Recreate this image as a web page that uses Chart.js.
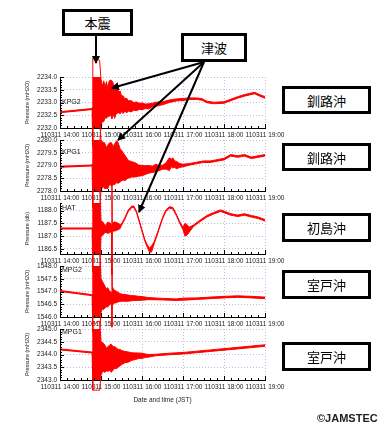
<!DOCTYPE html>
<html>
<head>
<meta charset="utf-8">
<script src="https://cdn.jsdelivr.net/npm/chart.js@4"></script>
<style>
body { margin: 0; background: #fff; width: 380px; height: 430px; position: relative; overflow: hidden; font-family: "Noto Sans CJK JP", sans-serif; }
canvas { position: absolute; left: 0; }
.stn { position: absolute; left: 62px; font: 7px "Liberation Sans", Arial, sans-serif; color: #111; line-height: 8px; }
.box { position: absolute; box-sizing: border-box; border: 3px solid #000; background: #fff; display: flex; align-items: center; justify-content: center; font-size: 13px; color: #000; }
#credit { position: absolute; left: 317px; top: 412px; font: bold 11px "Liberation Sans", Arial, sans-serif; color: #222; }
svg { position: absolute; left: 0; top: 0; }
</style>
</head>
<body>
<canvas id="p1" width="300" height="93" style="top:57px"></canvas>
<canvas id="p2" width="300" height="93" style="top:120px"></canvas>
<canvas id="p3" width="300" height="93" style="top:183px"></canvas>
<canvas id="p4" width="300" height="93" style="top:246px"></canvas>
<canvas id="p5" width="300" height="95" style="top:309px"></canvas>

<div class="stn" style="top:98px">KPG2</div>
<div class="stn" style="top:148px">KPG1</div>
<div class="stn" style="top:204px">HAT</div>
<div class="stn" style="top:266px">MPG2</div>
<div class="stn" style="top:328px">MPG1</div>

<svg width="380" height="430">
  <defs>
    <marker id="ah" markerWidth="8" markerHeight="8" refX="7" refY="4" orient="auto" markerUnits="userSpaceOnUse">
      <path d="M0,0 L8,4 L0,8 z" fill="#000"/>
    </marker>
  </defs>
  <g stroke="#000" stroke-width="2" fill="none" marker-end="url(#ah)">
    <line x1="96" y1="35" x2="96" y2="63"/>
    <line x1="204" y1="62" x2="112" y2="88"/>
    <line x1="204" y1="62" x2="118" y2="140"/>
    <line x1="204" y1="62" x2="139" y2="212"/>
  </g>
</svg>

<div class="box" style="left:62px;top:9px;width:71px;height:27px">本震</div>
<div class="box" style="left:181px;top:33px;width:66px;height:29px">津波</div>
<div class="box" style="left:282px;top:86px;width:89px;height:28px">釧路沖</div>
<div class="box" style="left:282px;top:143px;width:89px;height:28px">釧路沖</div>
<div class="box" style="left:282px;top:213px;width:89px;height:29px">初島沖</div>
<div class="box" style="left:282px;top:270px;width:89px;height:29px">室戸沖</div>
<div class="box" style="left:282px;top:342px;width:89px;height:29px">室戸沖</div>
<div id="credit">©JAMSTEC</div>

<script>
// minutes after 2011-03-11 14:00 JST, trace centre and half spread of the noisy record
const kpg2Time = [0, 46, 47, 48, 52, 55, 58, 60, 62, 64, 66, 68, 70, 72, 74, 76, 78, 80, 82, 84, 86, 88, 90, 92, 95, 98, 100, 104, 108, 112, 116, 120, 125, 130, 135, 140, 150, 160, 170, 180, 190, 200, 208, 215, 225, 240, 250, 260, 270, 278, 285, 292, 300];
const kpg2Mid  = [2232.62, 2232.74, 2232.75, 2233.0, 2233.1, 2233.0, 2233.0, 2233.0, 2232.95, 2233.05, 2233.0, 2233.1, 2233.0, 2233.15, 2233.2, 2233.1, 2233.15, 2233.0, 2233.05, 2233.1, 2233.0, 2233.0, 2232.95, 2232.92, 2232.9, 2232.88, 2232.87, 2232.85, 2232.85, 2232.85, 2232.85, 2232.85, 2232.85, 2232.85, 2232.9, 2232.93, 2232.97, 2233.05, 2233.1, 2233.12, 2233.15, 2233.15, 2233.12, 2233.02, 2232.98, 2233.0, 2233.1, 2233.2, 2233.28, 2233.33, 2233.37, 2233.28, 2233.2];
const kpg2Half = [0.02, 0.02, 0.05, 1.75, 1.6, 1.7, 1.65, 0.9, 0.7, 0.8, 0.6, 0.72, 0.55, 0.7, 0.68, 0.75, 0.6, 0.62, 0.5, 0.52, 0.4, 0.45, 0.3, 0.35, 0.25, 0.28, 0.2, 0.22, 0.15, 0.17, 0.12, 0.13, 0.09, 0.1, 0.07, 0.08, 0.06, 0.05, 0.04, 0.04, 0.03, 0.03, 0.03, 0.03, 0.03, 0.03, 0.03, 0.03, 0.03, 0.03, 0.03, 0.03, 0.03];

const kpg1Time = [0, 46, 47, 48, 52, 55, 58, 60, 63, 65, 68, 70, 73, 75, 78, 80, 83, 85, 88, 90, 93, 95, 98, 100, 105, 110, 115, 120, 125, 130, 135, 140, 145, 150, 155, 160, 163, 165, 168, 170, 175, 180, 190, 200, 210, 220, 230, 240, 250, 260, 270, 280, 290, 300];
const kpg1Mid  = [2278.95, 2279.0, 2279.0, 2279.1, 2279.2, 2279.1, 2279.1, 2279.0, 2279.05, 2279.0, 2278.9, 2278.95, 2279.1, 2279.05, 2279.0, 2279.05, 2279.15, 2279.1, 2279.0, 2279.0, 2278.95, 2278.9, 2278.88, 2278.85, 2278.85, 2278.83, 2278.8, 2278.8, 2278.82, 2278.85, 2278.85, 2278.9, 2278.9, 2278.93, 2278.98, 2279.05, 2279.1, 2279.1, 2279.05, 2279.02, 2279.0, 2279.0, 2279.05, 2279.1, 2279.15, 2279.15, 2279.2, 2279.25, 2279.4, 2279.35, 2279.4, 2279.3, 2279.35, 2279.4];
const kpg1Half = [0.02, 0.02, 0.05, 1.75, 1.7, 1.75, 1.75, 1.0, 0.85, 0.9, 0.8, 0.85, 0.8, 0.85, 0.75, 0.8, 0.82, 0.8, 0.65, 0.6, 0.52, 0.5, 0.4, 0.35, 0.3, 0.28, 0.22, 0.2, 0.17, 0.15, 0.12, 0.15, 0.1, 0.08, 0.12, 0.25, 0.15, 0.2, 0.12, 0.15, 0.08, 0.05, 0.03, 0.03, 0.03, 0.03, 0.03, 0.03, 0.03, 0.03, 0.03, 0.03, 0.03, 0.03];

const hatTime = [0, 46, 47, 48, 52, 55, 58, 60, 63, 66, 70, 74, 75.5, 76, 76.5, 80, 85, 88, 90, 95, 100, 105, 108, 112, 118, 124, 128, 131, 134, 138, 145, 150, 155, 160, 165, 170, 175, 180, 183, 186, 189, 195, 205, 215, 225, 235, 240, 250, 260, 270, 280, 290, 300];
const hatMid   = [1187.3, 1187.3, 1187.3, 1187.3, 1187.35, 1187.3, 1187.3, 1187.3, 1187.3, 1187.28, 1187.33, 1187.33, 1187.33, 1187.35, 1187.35, 1187.38, 1187.38, 1187.38, 1187.45, 1187.7, 1188.0, 1188.15, 1188.15, 1187.95, 1187.4, 1186.85, 1186.6, 1186.45, 1186.5, 1186.75, 1187.3, 1187.7, 1188.0, 1188.12, 1188.1, 1187.85, 1187.55, 1187.3, 1187.25, 1187.25, 1187.25, 1187.4, 1187.6, 1187.78, 1187.9, 1188.0, 1187.95, 1187.85, 1187.8, 1187.85, 1187.78, 1187.72, 1187.62];
const hatHalf  = [0.02, 0.02, 0.03, 1.7, 1.65, 1.7, 1.7, 0.3, 0.25, 0.13, 0.22, 0.18, 0.13, 1.85, 0.15, 0.18, 0.13, 0.08, 0.03, 0.03, 0.03, 0.03, 0.03, 0.03, 0.03, 0.03, 0.05, 0.08, 0.12, 0.04, 0.03, 0.03, 0.03, 0.03, 0.03, 0.03, 0.03, 0.05, 0.25, 0.2, 0.1, 0.03, 0.03, 0.03, 0.03, 0.03, 0.03, 0.03, 0.03, 0.03, 0.03, 0.03, 0.03];

const mpg2Time = [0, 46, 47, 48, 52, 55, 58, 60, 62, 64, 66, 68, 70, 72, 74, 75.5, 76, 76.5, 78, 80, 83, 85, 88, 90, 95, 100, 105, 110, 115, 120, 130, 150, 170, 180, 200, 220, 240, 260, 280, 300];
const mpg2Mid  = [1547.02, 1546.86, 1546.86, 1547.1, 1547.0, 1547.1, 1547.1, 1546.85, 1546.85, 1546.8, 1546.78, 1546.75, 1546.77, 1546.75, 1546.75, 1546.75, 1547.05, 1546.85, 1546.8, 1546.8, 1546.78, 1546.78, 1546.76, 1546.76, 1546.75, 1546.74, 1546.74, 1546.74, 1546.73, 1546.73, 1546.72, 1546.7, 1546.68, 1546.7, 1546.72, 1546.75, 1546.78, 1546.8, 1546.78, 1546.75];
const mpg2Half = [0.02, 0.02, 0.03, 1.7, 1.65, 1.7, 1.7, 0.65, 0.55, 0.5, 0.42, 0.35, 0.38, 0.28, 0.25, 0.2, 1.45, 0.35, 0.3, 0.25, 0.22, 0.18, 0.16, 0.14, 0.13, 0.12, 0.1, 0.09, 0.08, 0.07, 0.04, 0.03, 0.03, 0.04, 0.03, 0.03, 0.03, 0.03, 0.03, 0.03];

const mpg1Time = [0, 46, 47, 48, 52, 55, 58, 60, 63, 65, 68, 70, 73, 75, 78, 80, 83, 85, 88, 90, 95, 100, 105, 110, 115, 120, 125, 130, 140, 160, 180, 200, 220, 240, 260, 280, 300];
const mpg1Mid  = [2344.2, 2344.08, 2344.08, 2343.95, 2343.9, 2343.95, 2343.95, 2343.85, 2343.9, 2343.85, 2343.8, 2343.82, 2343.88, 2343.85, 2343.85, 2343.88, 2343.85, 2343.85, 2343.88, 2343.88, 2343.9, 2343.9, 2343.92, 2343.93, 2343.95, 2343.95, 2343.95, 2343.95, 2343.98, 2344.02, 2344.05, 2344.1, 2344.15, 2344.2, 2344.25, 2344.3, 2344.35];
const mpg1Half = [0.02, 0.02, 0.03, 1.35, 1.3, 1.35, 1.35, 0.65, 0.55, 0.55, 0.45, 0.48, 0.5, 0.55, 0.45, 0.43, 0.4, 0.35, 0.32, 0.28, 0.22, 0.2, 0.15, 0.13, 0.11, 0.1, 0.07, 0.05, 0.03, 0.03, 0.03, 0.03, 0.03, 0.03, 0.03, 0.03, 0.03];

const kpg2Ticks = [2232.0, 2232.5, 2233.0, 2233.5, 2234.0];
const kpg1Ticks = [2278.0, 2278.5, 2279.0, 2279.5, 2280.0];
const hatTicks  = [1186.5, 1187.0, 1187.5, 1188.0];
const mpg2Ticks = [1546.0, 1546.5, 1547.0, 1547.5, 1548.0];
const mpg1Ticks = [2343.0, 2343.5, 2344.0, 2344.5, 2345.0];
const hourTicks = ['14:00', '15:00', '16:00', '17:00', '18:00', '19:00'];

const GRID = '#b9b9ec';
const RED = '#ff0000';
const TICK_FONT = { family: '"Liberation Sans", Arial, sans-serif', size: 6.5 };

const innerTicks = {
    id: 'innerTicks',
    afterDraw(chart) {
        const { ctx, chartArea, scales } = chart;
        const x = scales.x, y = scales.y;
        ctx.save();
        ctx.strokeStyle = '#000';
        ctx.lineWidth = 1;
        ctx.beginPath();
        for (let t = 0; t <= 300; t += 10) {
            const px = Math.round(x.getPixelForValue(t)) + 0.5;
            const len = t % 60 === 0 ? 4 : 2;
            ctx.moveTo(px, chartArea.bottom);
            ctx.lineTo(px, chartArea.bottom - len);
        }
        for (let k = Math.ceil(y.min * 10 - 1e-6); k <= Math.floor(y.max * 10 + 1e-6); k++) {
            const py = Math.round(y.getPixelForValue(k / 10)) + 0.5;
            const len = k % 5 === 0 ? 4 : 2;
            ctx.moveTo(chartArea.left, py);
            ctx.lineTo(chartArea.left + len, py);
        }
        ctx.stroke();
        ctx.restore();
    }
};

function buildPanel(canvasId, time, mid, half, yMin, yMax, yTicks, yTitle, isLast) {
    const upper = time.map((t, i) => ({ x: t, y: mid[i] + half[i] }));
    const lower = time.map((t, i) => ({ x: t, y: mid[i] - half[i] }));
    return new Chart(document.getElementById(canvasId).getContext('2d'), {
        type: 'line',
        data: {
            datasets: [
                { data: upper, borderColor: RED, backgroundColor: RED, borderWidth: 1, pointRadius: 0, tension: 0, fill: '+1', clip: false },
                { data: lower, borderColor: RED, backgroundColor: RED, borderWidth: 1, pointRadius: 0, tension: 0, fill: false, clip: false }
            ]
        },
        options: {
            responsive: false,
            animation: false,
            layout: { autoPadding: false, padding: { top: 20, right: 35, left: 24, bottom: 0 } },
            plugins: { legend: { display: false }, tooltip: { enabled: false } },
            scales: {
                x: {
                    type: 'linear', min: 0, max: 300,
                    afterFit(s) { s.height = isLast ? 24 : 22; },
                    grid: {
                        drawTicks: false,
                        color: ctx => (ctx.tick && ctx.tick.value % 60 === 0 && ctx.tick.value > 0) ? GRID : 'transparent'
                    },
                    border: { display: true, color: '#000', width: 1, dash: [1, 2] },
                    ticks: {
                        stepSize: 10, autoSkip: false, maxRotation: 0, minRotation: 0,
                        padding: 3, color: '#222', font: TICK_FONT,
                        callback: v => v % 60 === 0 ? '110311 ' + hourTicks[v / 60] : ''
                    },
                    title: {
                        display: isLast, text: 'Date and time (JST)', color: '#222',
                        font: { family: '"Liberation Sans", Arial, sans-serif', size: 6.5 }, padding: 0
                    }
                },
                y: {
                    min: yMin, max: yMax,
                    afterFit(s) { s.width = 36; },
                    afterBuildTicks(s) { s.ticks = yTicks.map(v => ({ value: v })); },
                    grid: { drawTicks: false, color: GRID },
                    border: { display: true, color: '#000', width: 1, dash: [1, 2] },
                    ticks: {
                        padding: 3, color: '#222', font: TICK_FONT,
                        callback: v => Number(v).toFixed(1)
                    },
                    title: {
                        display: true, text: yTitle, color: '#222',
                        font: { family: '"Liberation Sans", Arial, sans-serif', size: 5.5 }, padding: 0
                    }
                }
            }
        },
        plugins: [innerTicks]
    });
}

buildPanel('p1', kpg2Time, kpg2Mid, kpg2Half, 2232.0, 2234.0, kpg2Ticks, 'Pressure (mH2O)', false);
buildPanel('p2', kpg1Time, kpg1Mid, kpg1Half, 2278.0, 2280.0, kpg1Ticks, 'Pressure (mH2O)', false);
buildPanel('p3', hatTime, hatMid, hatHalf, 1186.3, 1188.3, hatTicks, 'Pressure (db)', false);
buildPanel('p4', mpg2Time, mpg2Mid, mpg2Half, 1546.0, 1548.0, mpg2Ticks, 'Pressure (mH2O)', false);
buildPanel('p5', mpg1Time, mpg1Mid, mpg1Half, 2343.0, 2345.0, mpg1Ticks, 'Pressure (mH2O)', true);
</script>
</body>
</html>
